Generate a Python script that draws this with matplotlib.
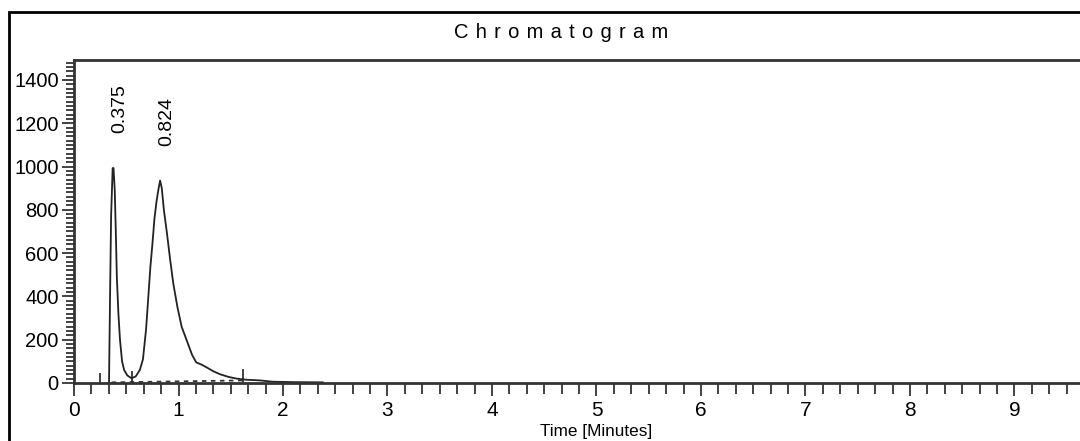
import numpy as np
import matplotlib
matplotlib.use('Agg')
import matplotlib.pyplot as plt
import matplotlib.ticker as mticker
from matplotlib.patches import Rectangle

plt.rcParams['font.family'] = ['Liberation Sans', 'DejaVu Sans']

# chromatogram trace (time in minutes, intensity)
time_min = [0.33, 0.335, 0.345, 0.355, 0.37, 0.378, 0.39, 0.40, 0.41, 0.425,
            0.44, 0.46, 0.48, 0.51, 0.55, 0.59, 0.63, 0.66, 0.69, 0.71,
            0.73, 0.75, 0.77, 0.79, 0.81, 0.824, 0.84, 0.86, 0.89, 0.92,
            0.95, 0.99, 1.03, 1.08, 1.13, 1.17, 1.22, 1.27, 1.33, 1.40,
            1.48, 1.56, 1.65, 1.78, 1.90, 2.10, 2.38]
intensity = [0, 0, 400, 770, 993, 993, 890, 700, 490, 320,
             200, 100, 60, 35, 22, 30, 60, 110, 250, 390,
             530, 640, 760, 840, 900, 935, 900, 800, 690, 570,
             460, 350, 260, 195, 130, 95, 85, 72, 55, 40,
             28, 20, 15, 12, 6, 4, 3]

# integration baseline
base_t = [0.36, 1.62]
base_y = [3, 12]

# peak start / end markers
marker_t = [0.25, 0.555, 1.615]
marker_h = [45, 55, 65]

# labelled peaks
peak_t = [0.375, 0.824]
peak_h = [993, 935]
peak_labels = ['0.375', '0.824']

x_ticks = [0, 1, 2, 3, 4, 5, 6, 7, 8, 9]

W, H = 1080, 441
fig = plt.figure(figsize=(W / 100, H / 100), dpi=100)
ax = fig.add_axes([74 / W, 1 - 383 / H, 1045 / W, (383 - 60) / H])

ax.plot(time_min, intensity, color='#222222', lw=1.3)
ax.plot(base_t, base_y, color='#333333', lw=1.3, ls=(0, (2.5, 2.5)))
ax.vlines(marker_t, 0, marker_h, color='#222222', lw=1.2)

for t, h, lab in zip(peak_t, peak_h, peak_labels):
    ax.annotate(lab, (t, h), xytext=(4.5, 25), textcoords='offset points',
                rotation=90, ha='center', va='bottom', fontsize=14)

ax.set_xlim(0, 10)
ax.set_ylim(0, 1492)
ax.xaxis.set_major_locator(mticker.FixedLocator(x_ticks))
ax.xaxis.set_minor_locator(mticker.MultipleLocator(1 / 6))
ax.yaxis.set_major_locator(mticker.MultipleLocator(200))
ax.yaxis.set_minor_locator(mticker.MultipleLocator(20))
ax.tick_params(which='both', direction='out', width=1.2, color='#222222')
ax.tick_params(axis='x', which='major', length=9, pad=4, labelsize=15)
ax.tick_params(axis='x', which='minor', length=8)
ax.tick_params(axis='y', which='major', length=9, pad=2, labelsize=14.5)
ax.tick_params(axis='y', which='minor', length=6)

for s in ['left', 'top', 'bottom', 'right']:
    ax.spines[s].set_linewidth(2)
    ax.spines[s].set_color('#333333')

ax.set_xlabel('Time [Minutes]', fontsize=12.3, labelpad=3)

# letter-spaced title
fig.text(561 / W, 1 - 32 / H, ' \u200a'.join('Chromatogram'),
         ha='center', va='center', fontsize=14.5)

fig.add_artist(Rectangle((9 / W, -0.2), 1.2, 1.2 - 12 / H,
                         transform=fig.transFigure, fill=False,
                         lw=2, ec='black'))

fig.savefig('out.png', dpi=100)
